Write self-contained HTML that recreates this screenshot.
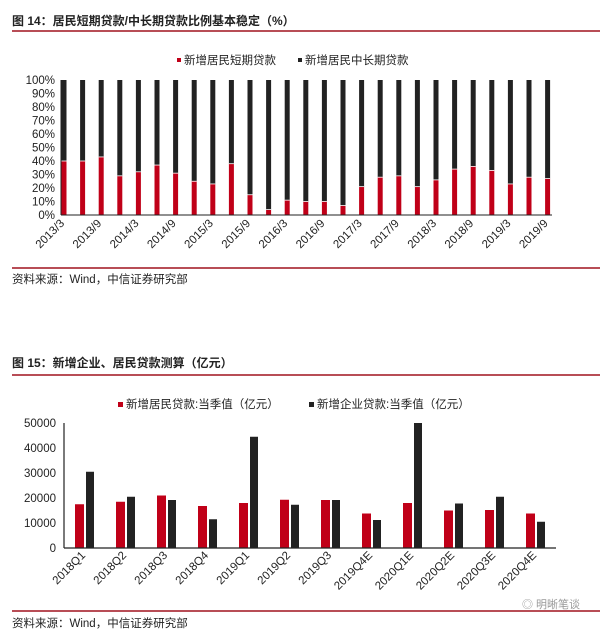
<!DOCTYPE html><html><head><meta charset="utf-8"><style>body{margin:0;background:#fff;}svg{display:block;font-family:"Liberation Sans","Noto Sans CJK SC",sans-serif;}</style></head><body>
<svg width="600" height="634" viewBox="0 0 600 634" xmlns="http://www.w3.org/2000/svg">
<text x="12" y="25" font-size="12" fill="#222" font-weight="bold">图 14：居民短期贷款/中长期贷款比例基本稳定（%）</text>
<line x1="12" y1="31" x2="600" y2="31" stroke="#a0121e" stroke-width="1.5"/>
<rect x="177" y="58" width="4" height="4" fill="#c00018"/><text x="184" y="64" font-size="11.5" fill="#222">新增居民短期贷款</text>
<rect x="298" y="58" width="4" height="4" fill="#222"/><text x="305" y="64" font-size="11.5" fill="#222">新增居民中长期贷款</text>
<g font-size="11.5" fill="#222" text-anchor="end" id="y1"></g>
<g id="b1"></g>
<line x1="61" y1="215" x2="552" y2="215" stroke="#222"/>
<line x1="61" y1="80" x2="61" y2="215" stroke="#222"/>
<g id="x1" font-size="11.5" fill="#222" text-anchor="end"></g>
<line x1="12" y1="268" x2="600" y2="268" stroke="#a0121e" stroke-width="1.5"/>
<text x="12" y="283" font-size="11.5" fill="#222">资料来源：Wind，中信证券研究部</text>

<text x="12" y="367" font-size="12" fill="#222" font-weight="bold">图 15：新增企业、居民贷款测算（亿元）</text>
<line x1="12" y1="375" x2="600" y2="375" stroke="#a0121e" stroke-width="1.5"/>
<rect x="118" y="402" width="5" height="5" fill="#c00018"/><text x="126" y="408" font-size="11.5" fill="#222">新增居民贷款:当季值（亿元）</text>
<rect x="309" y="402" width="5" height="5" fill="#222"/><text x="317" y="408" font-size="11.5" fill="#222">新增企业贷款:当季值（亿元）</text>
<g id="y2" font-size="11.5" fill="#222" text-anchor="end"></g>
<g id="b2"></g>
<line x1="64" y1="548" x2="556" y2="548" stroke="#222" stroke-width="1.2"/>
<line x1="64" y1="423" x2="64" y2="548" stroke="#222" stroke-width="1.2"/>
<g id="x2" font-size="11.5" fill="#222" text-anchor="end"></g>
<line x1="12" y1="611" x2="600" y2="611" stroke="#a0121e" stroke-width="1.5"/>
<text x="12" y="627" font-size="11.5" fill="#222">资料来源：Wind，中信证券研究部</text>
<text x="522" y="608" font-size="11" fill="#999">◎ 明晰笔谈</text>
</svg>
<script>
var NS="http://www.w3.org/2000/svg";
function el(p,t,a,txt){var e=document.createElementNS(NS,t);for(var k in a)e.setAttribute(k,a[k]);if(txt!=null)e.textContent=txt;document.getElementById(p).appendChild(e);}
var r=[40,40,43,29,32,37,31,25,23,38,15,4,11,10,10,7,21,28,29,21,26,34,36,33,23,28,27];
for(var i=0;i<=10;i++){var y=215-i*13.5;el("y1","text",{x:55,y:y+4},i*10+"%");}
for(var i=0;i<27;i++){var x=61.5+i*18.6,h=r[i]*1.35;
el("b1","rect",{x:x,y:80,width:5,height:135-h,fill:"#222"});
el("b1","rect",{x:x,y:215-h,width:5,height:h,fill:"#c00018"});
el("b1","line",{x1:x,y1:215-h,x2:x+5,y2:215-h,stroke:"#fff","stroke-width":0.8});}
var l1=["2013/3","2013/9","2014/3","2014/9","2015/3","2015/9","2016/3","2016/9","2017/3","2017/9","2018/3","2018/9","2019/3","2019/9"];
for(var j=0;j<14;j++){var x=65+j*37.2;el("x1","text",{x:x,y:224,transform:"rotate(-45 "+x+" 224)"},l1[j]);}
var a=[17.5,18.5,21,16.8,18,19.3,19.2,13.8,18,15,15.2,13.8],b=[30.5,20.5,19.2,11.5,44.5,17.3,19.2,11.2,50,17.8,20.5,10.5];
for(var i=0;i<=5;i++){var y=548-i*25;el("y2","text",{x:56,y:y+4},i*10000);}
var l2=["2018Q1","2018Q2","2018Q3","2018Q4","2019Q1","2019Q2","2019Q3","2019Q4E","2020Q1E","2020Q2E","2020Q3E","2020Q4E"];
for(var i=0;i<12;i++){var x=75+i*41;
el("b2","rect",{x:x,y:548-a[i]*2.5,width:9,height:a[i]*2.5,fill:"#c00018"});
el("b2","rect",{x:x+11,y:548-b[i]*2.5,width:8,height:b[i]*2.5,fill:"#222"});
var lx=x+11,ly=556;el("x2","text",{x:lx,y:ly,transform:"rotate(-45 "+lx+" "+ly+")"},l2[i]);}
</script>
</body></html>
